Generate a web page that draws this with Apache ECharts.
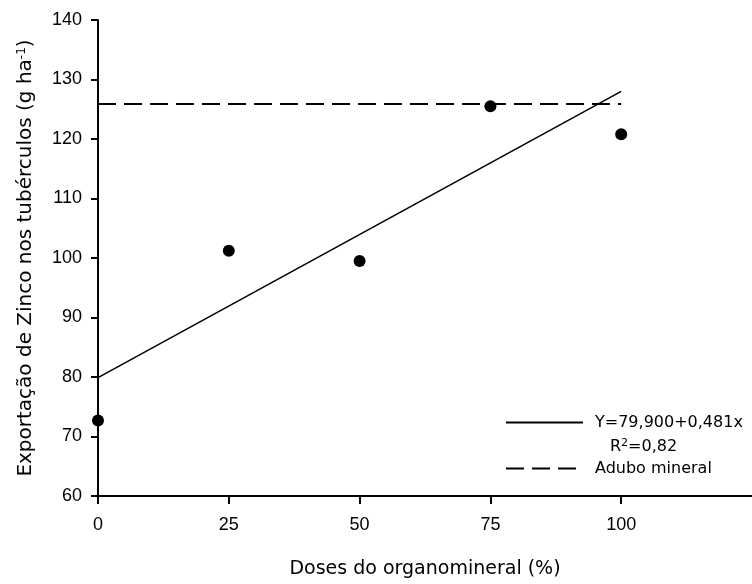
<!DOCTYPE html>
<html>
<head>
<meta charset="utf-8">
<script src="https://cdn.jsdelivr.net/npm/echarts@6/dist/echarts.min.js"></script>
<style>html,body{margin:0;padding:0;background:#fff}#c{width:752px;height:584px}</style>
</head>
<body>
<div id="c"></div>
<script>
// Observed points
var doses = [0, 25, 50, 75, 100];
var zinco = [72.7, 101.2, 99.5, 125.5, 120.8];
// Regression line endpoints
var regX = [0, 100];
var regY = [79.9, 128.0];
// Adubo mineral reference line
var mineralX = [0, 100];
var mineralY = [125.9, 125.9];
// Axis ticks
var xTicks = [0, 25, 50, 75, 100, 125];
var yTicks = [60, 70, 80, 90, 100, 110, 120, 130, 140];

var FONT = 'DejaVu Sans';
var TICKFONT = 'Liberation Sans';
function pairs(xs, ys){ return xs.map(function(x,i){ return [x, ys[i]]; }); }

var chart = echarts.init(document.getElementById('c'), null, {renderer:'canvas'});
chart.setOption({
  animation: false,
  backgroundColor: '#fff',
  textStyle: {fontFamily: FONT, color: '#000'},
  grid: {left: 98, top: 20, width: 664, height: 478},
  xAxis: {
    type: 'value', min: xTicks[0], max: xTicks[xTicks.length-1], interval: 25,
    name: 'Doses do organomineral (%)', nameLocation: 'middle', nameGap: 64,
    nameTextStyle: {fontSize: 19, fontFamily: FONT, color: '#000'},
    axisLine: {onZero: false, lineStyle: {color: '#000', width: 2}},
    axisTick: {length: 8, lineStyle: {color: '#000', width: 2}},
    axisLabel: {fontSize: 18, fontFamily: TICKFONT, color: '#000', margin: 20, showMaxLabel: false},
    splitLine: {show: false}
  },
  yAxis: {
    type: 'value', min: yTicks[0], max: yTicks[yTicks.length-1], interval: 10,
    name: 'Exportação de Zinco nos tubérculos (g ha{sup|-1})', nameLocation: 'middle', nameGap: 62,
    nameTextStyle: {fontSize: 20, fontFamily: FONT, color: '#000',
      rich: {sup: {fontSize: 12, fontFamily: FONT, color: '#000', verticalAlign: 'top', padding: [0,0,8,0]}}},
    axisLine: {onZero: false, lineStyle: {color: '#000', width: 2}},
    axisTick: {length: 7, lineStyle: {color: '#000', width: 2}},
    axisLabel: {fontSize: 18, fontFamily: TICKFONT, color: '#000', margin: 16},
    splitLine: {show: false}
  },
  legend: {
    orient: 'vertical', left: 500, top: 406, itemWidth: 77, itemHeight: 14, itemGap: 23,
    data: ['Y=79,900+0,481x', 'Adubo mineral'],
    itemStyle: {opacity: 0},
    textStyle: {fontSize: 16, fontFamily: FONT, color: '#000', padding: [0,0,0,7], lineHeight: 23},
    selectedMode: false
  },
  graphic: [{
    type: 'text', left: 610, top: 438,
    style: {text: '{r|R}{s|2}{r|=0,82}', rich: {
      r: {fontSize: 16, fontFamily: FONT, fill: '#000'},
      s: {fontSize: 11, fontFamily: FONT, fill: '#000', verticalAlign: 'top', padding: [0,0,6,0]}
    }}
  }],
  series: [
    {name: 'Y=79,900+0,481x', type: 'line', data: pairs(regX, regY), symbol: 'none',
     lineStyle: {color: '#000', width: 1.6, type: 'solid'}, itemStyle: {color: '#000'}, z: 2},
    {name: 'Adubo mineral', type: 'line', data: pairs(mineralX, mineralY), symbol: 'none',
     lineStyle: {color: '#000', width: 2, type: [18, 8]}, itemStyle: {color: '#000'}, z: 2},
    {name: 'Observado', type: 'scatter', data: pairs(doses, zinco), symbol: 'circle', symbolSize: 12,
     itemStyle: {color: '#000', opacity: 1}, z: 3}
  ]
});
</script>
</body>
</html>
